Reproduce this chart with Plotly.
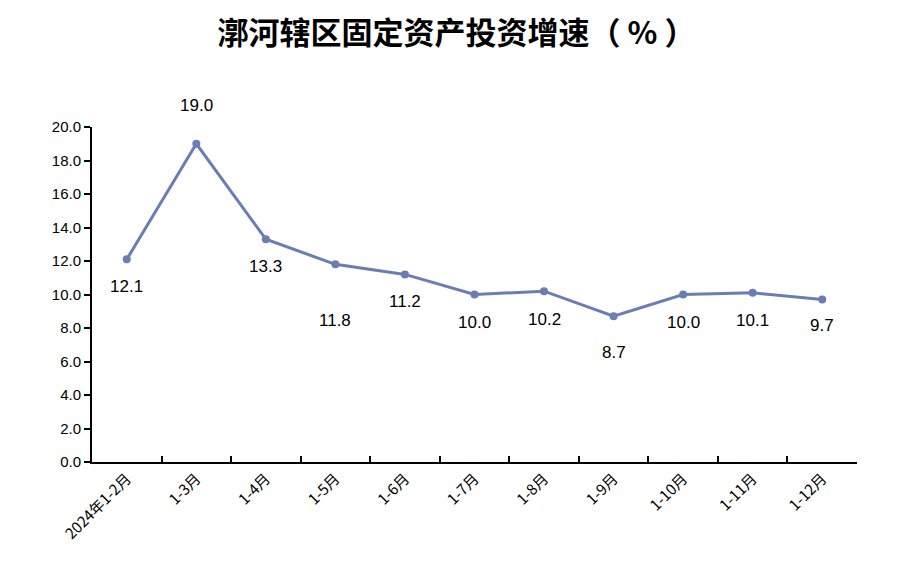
import plotly.graph_objects as go

# 漷河辖区固定资产投资增速（%）
months = ['2024年1-2月', '1-3月', '1-4月', '1-5月', '1-6月', '1-7月',
          '1-8月', '1-9月', '1-10月', '1-11月', '1-12月']
growth = [12.1, 19.0, 13.3, 11.8, 11.2, 10.0, 10.2, 8.7, 10.0, 10.1, 9.7]

# vertical offset of each value label (px), negative = below the point
label_shift = [-27, 38, -27, -56, -27, -28, -28, -36, -28, -28, -26]

line_color = '#6A7DB5'

fig = go.Figure()
fig.add_trace(go.Scatter(
    x=months, y=growth, mode='lines+markers',
    line=dict(color=line_color, width=3),
    marker=dict(color=line_color, size=8),
    hoverinfo='x+y', showlegend=False,
))

for m, v, s in zip(months, growth, label_shift):
    fig.add_annotation(x=m, y=v, text=f'{v:.1f}', showarrow=False,
                       yshift=s, font=dict(size=17, color='#000000'))

fig.update_layout(
    width=913, height=580,
    paper_bgcolor='white', plot_bgcolor='white',
    margin=dict(l=92, r=56, t=127, b=118),
    font=dict(family='Liberation Sans, Noto Sans CJK SC, sans-serif', color='#000000'),
    title=dict(text='<b>漷河辖区固定资产投资增速（ % ）</b>', x=0.5, xanchor='center',
               y=0.943, yanchor='middle',
               font=dict(family='Noto Sans CJK SC', size=31, color='#000000')),
)

fig.update_xaxes(
    type='category', range=[-0.5, len(months) - 0.5],
    showline=True, linecolor='#000000', linewidth=2,
    ticks='inside', tickson='boundaries', ticklen=6, tickwidth=2, tickcolor='#000000',
    tickangle=-45, tickfont=dict(family='Noto Sans CJK SC', size=15),
    showgrid=False, zeroline=False, automargin=False,
)
fig.update_yaxes(
    range=[0, 20], dtick=2, tickformat='.1f',
    showline=True, linecolor='#000000', linewidth=2,
    ticks='outside', ticklen=6, tickwidth=2, tickcolor='#000000',
    tickfont=dict(size=15), showgrid=False, zeroline=False, automargin=False,
)

# drop the browser's default body margin so the figure sits at the page corner
fig.write_html('out.html', config={'displayModeBar': False},
               post_script="document.body.style.margin='0';")
